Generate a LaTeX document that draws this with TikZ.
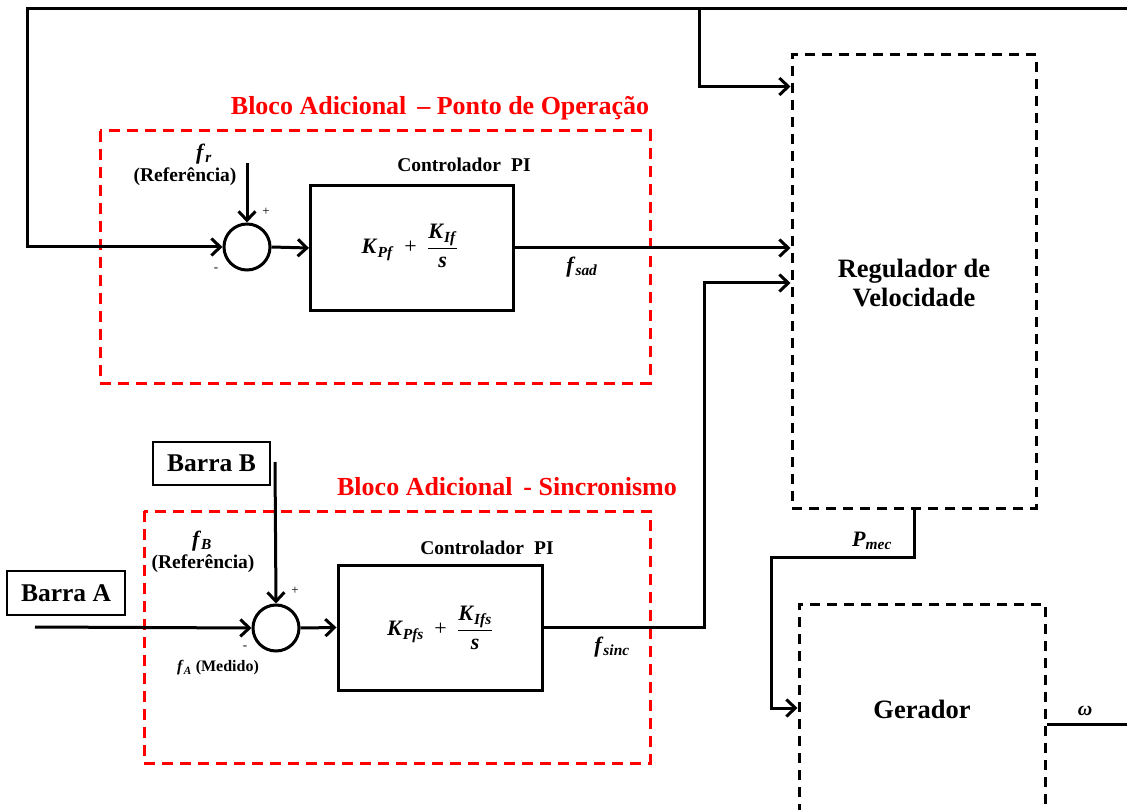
\documentclass[tikz,border=0pt]{standalone}
\usepackage{fontspec}
\usepackage{amsmath}
\setmainfont{Liberation Serif}
\usetikzlibrary{arrows.meta,calc}
\newcommand\mybi[1]{\textbf{\textit{#1}}}
\newcommand\mysub[2]{\mybi{#1}\textsubscript{\mybi{#2}}}
\tikzset{
  wire/.style={line width=3pt},
  arr/.style={wire,-{Straight Barb[length=9pt,width=17pt,line width=3pt]}},
  pibox/.style={draw,line width=3pt,minimum width=203pt,minimum height=125pt,inner sep=0pt},
  sumnode/.style={draw,circle,line width=3pt,minimum size=46pt,inner sep=0pt},
  barbox/.style={draw,line width=1.5pt,minimum width=117pt,minimum height=43pt,inner sep=0pt,font=\fontsize{25.5}{28}\selectfont\bfseries},
  bigbox/.style={draw,line width=3pt,dash pattern=on 10pt off 7pt,inner sep=0pt},
  redbox/.style={draw=red,line width=3pt,dash pattern=on 11pt off 7pt},
  redtitle/.style={text=red,font=\fontsize{26}{28}\selectfont\bfseries},
  bigtxt/.style={font=\fontsize{26.5}{30}\selectfont\bfseries,align=center},
  pitxt/.style={font=\fontsize{19.5}{21}\selectfont\bfseries},
  lbl/.style={font=\fontsize{19.5}{21}\selectfont\bfseries,align=center},
  sml/.style={font=\fontsize{13}{14}\selectfont},
  mth/.style={font=\fontsize{22}{24}\selectfont},
  mlbl/.style={font=\fontsize{22}{24}\selectfont},
}
\begin{document}
\begin{tikzpicture}[x=1pt,y=-1pt]
\useasboundingbox (0,0) rectangle (1127,810);
\begin{scope}
\clip (0,0) rectangle (1127,810);
% big blocks
\node[bigbox,minimum width=244pt,minimum height=453pt] (reg) at (914,281.5) {};
\node[bigtxt] (regtxt) at (914,283) {Regulador de\\[-1pt]Velocidade};
\node[bigbox,minimum width=246pt,minimum height=226pt] (ger) at (922,717) {};
\node[bigtxt] (gertxt) at (922,709) {Gerador};

% red blocks
\draw[redbox] (100,131) rectangle (650,383);
\draw[redbox] (144,511) rectangle (650,763);
\node[redtitle] (t1) at (440,108) {Bloco Adicional \,– Ponto de Operação};
\node[redtitle] (t2) at (507,487) {Bloco Adicional \,- Sincronismo};

% upper controller
\node[sumnode] (sum1) at (247,247) {};
\node[pibox] (pi1) at (412,248) {};
\node[mth] (m1) at (410,246) {$\mbox{\mysub{K}{Pf}}\;\mathbin{\mbox{+}}\;\dfrac{\mbox{\mysub{K}{If}}}{\mbox{\mybi{s}}}$};
\node[pitxt] (c1) at (464,165) {Controlador \;PI};
\node[mlbl] (fr) at (204,154) {\mysub{f}{r}};
\node[lbl] (fref) at (185,177) {(Referência)};
\node[sml] (p1) at (266,212) {+};
\node[sml] (n1) at (216,270) {-};
\node[mlbl] (fsad) at (582,267) {\mysub{f}{sad}};

% lower controller
\node[sumnode] (sum2) at (276,628) {};
\node[pibox,minimum width=204pt] (pi2) at (440,627.5) {};
\node[mth] (m2) at (440,628) {$\mbox{\mysub{K}{Pfs}}\;\mathbin{\mbox{+}}\;\dfrac{\mbox{\mysub{K}{Ifs}}}{\mbox{\mybi{s}}}$};
\node[pitxt] (c2) at (487,548) {Controlador \;PI};
\node[barbox] (bB) at (211.5,463.5) {Barra B};
\node[barbox,minimum width=118pt,minimum height=44pt] (bA) at (66,593) {Barra A};
\node[mlbl] (fb) at (202,541) {\mysub{f}{B}};
\node[lbl] (fbref) at (203,564) {(Referência)};
\node[sml] (p2) at (295,591) {+};
\node[sml] (n2) at (245,648) {-};
\node[font=\fontsize{16}{17}\selectfont\bfseries] (fa) at (218,668) {\mysub{f}{A} (Medido)};
\node[mlbl] (fsinc) at (612,647) {\mysub{f}{sinc}};

\node[mlbl] (pmec) at (872,541) {\mysub{P}{mec}};
\node[font=\fontsize{20}{22}\selectfont] (om) at (1085,711) {\mybi{ω}};

% coordinates
\coordinate (tr) at (1127,9);
\coordinate (tl) at (27,9);
\coordinate (br) at (699,9);
\coordinate (frs) at (247,163);
\coordinate (j) at (704,283);
\coordinate (bBs) at (275,462);
\coordinate (bAs) at (35,627);
\coordinate (pm1) at (771,557);
\coordinate (pm2) at (771,708);
\coordinate (ome) at (1127,724);

% connectors
\draw[arr] (tr) -- (tl) |- (sum1.west);
\draw[arr] (br) |- ($(reg.north west)+(0,33)$);
\draw[arr] (frs) -- (sum1.north);
\draw[arr] (sum1.east) -- (pi1.west);
\draw[arr] (pi1.east) -- (reg.west |- pi1.east);
\draw[arr] (pi2.east) -| (j) -- (reg.west |- j);
\draw[arr] (bBs) -- (sum2.north);
\draw[arr] (bAs) -- (sum2.west);
\draw[arr] (sum2.east) -- (pi2.west);
\draw[arr] (reg.south) |- (pm1) -- (pm2) -- (ger.west |- pm2);
\draw[wire] (ger.east |- ome) -- (ome);
\end{scope}
\end{tikzpicture}
\end{document}
